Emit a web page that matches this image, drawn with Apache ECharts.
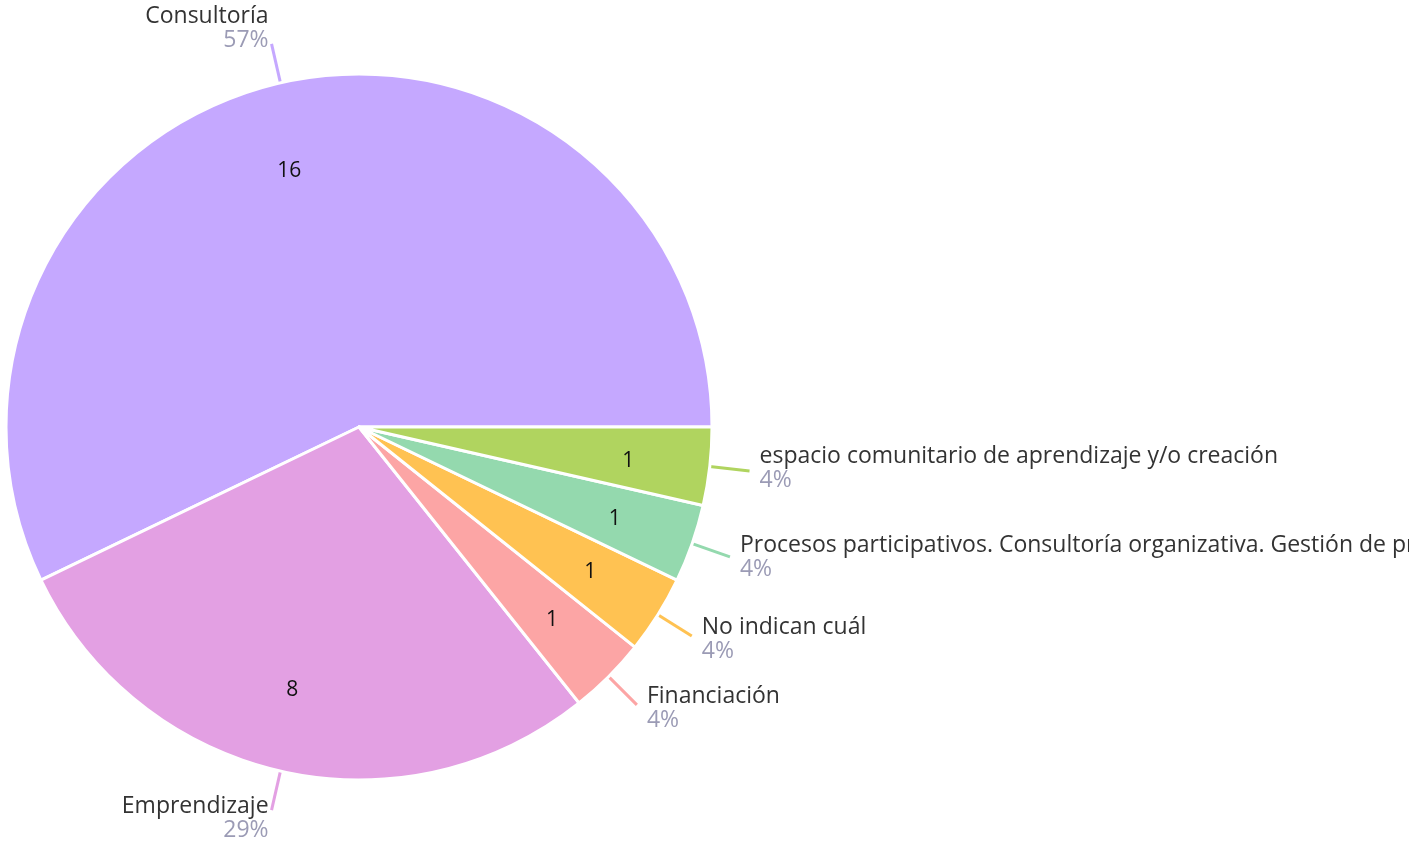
<!DOCTYPE html>
<html>
<head>
<meta charset="utf-8">
<script src="https://cdn.jsdelivr.net/npm/echarts@6/dist/echarts.min.js"></script>
<style>
html,body{margin:0;padding:0;background:#fff;}
#c{width:1409px;height:841px;}
</style>
</head>
<body>
<div id="c"></div>
<script>
const categories = [
  'Consultoría',
  'Emprendizaje',
  'Financiación',
  'No indican cuál',
  'Procesos participativos. Consultoría organizativa. Gestión de proyectos',
  'espacio comunitario de aprendizaje y/o creación'
];
const values = [16, 8, 1, 1, 1, 1];
const colors = ['#c5a8ff', '#e3a0e3', '#fca5a5', '#ffc252', '#94d9ae', '#b0d45f'];

const total = values.reduce((a, b) => a + b, 0);
const FONT = '"Open Sans", "Noto Sans", sans-serif';

const data = categories.map((name, i) => {
  const d = { name: name, value: values[i], itemStyle: { color: colors[i] } };
  if (i === 4) d.label = { width: 900, overflow: 'none' };
  return d;
});

const outerNudge = [[7, -15], [7, 8], [0, 4], [0, 3], [0, 1], [0, -3]];
const innerNudge = [[-9, 10], [-6, -3], [0, 0], [0, 0], [-2, 2], [-2, 3]];

const chart = echarts.init(document.getElementById('c'), null, { renderer: 'canvas' });
chart.setOption({
  animation: false,
  backgroundColor: '#fff',
  series: [
    {
      type: 'pie',
      center: [359, 427],
      radius: 353,
      startAngle: 0,
      clockwise: false,
      avoidLabelOverlap: false,
      itemStyle: { borderColor: '#fff', borderWidth: 3 },
      label: {
        show: true,
        position: 'outside',
        distanceToLabelLine: 10,
        fontFamily: FONT,
        formatter: p => '{n|' + p.name + '}\n{p|' + Math.round(p.value / total * 100) + '%}',
        rich: {
          n: { fontFamily: FONT, fontSize: 23, color: '#333333', lineHeight: 24 },
          p: { fontFamily: FONT, fontSize: 23, color: '#9b9bb5', lineHeight: 24 }
        }
      },
      labelLine: { show: true, length: 40, length2: 0, lineStyle: { width: 3 } },
      labelLayout: function (params) {
        const n = outerNudge[params.dataIndex];
        return { dx: n[0], dy: n[1] };
      },
      emphasis: { disabled: true },
      data: data
    },
    {
      type: 'pie',
      center: [359, 427],
      radius: [260, 280],
      startAngle: 0,
      clockwise: false,
      silent: true,
      itemStyle: { color: 'rgba(0,0,0,0)', borderWidth: 0 },
      label: {
        show: true,
        position: 'inside',
        formatter: p => String(p.value),
        fontFamily: FONT,
        fontSize: 21,
        color: '#111111'
      },
      labelLine: { show: false },
      labelLayout: function (params) {
        const n = innerNudge[params.dataIndex];
        return { dx: n[0], dy: n[1] };
      },
      emphasis: { disabled: true },
      data: categories.map((name, i) => ({ name: name, value: values[i] }))
    }
  ]
});
</script>
</body>
</html>
